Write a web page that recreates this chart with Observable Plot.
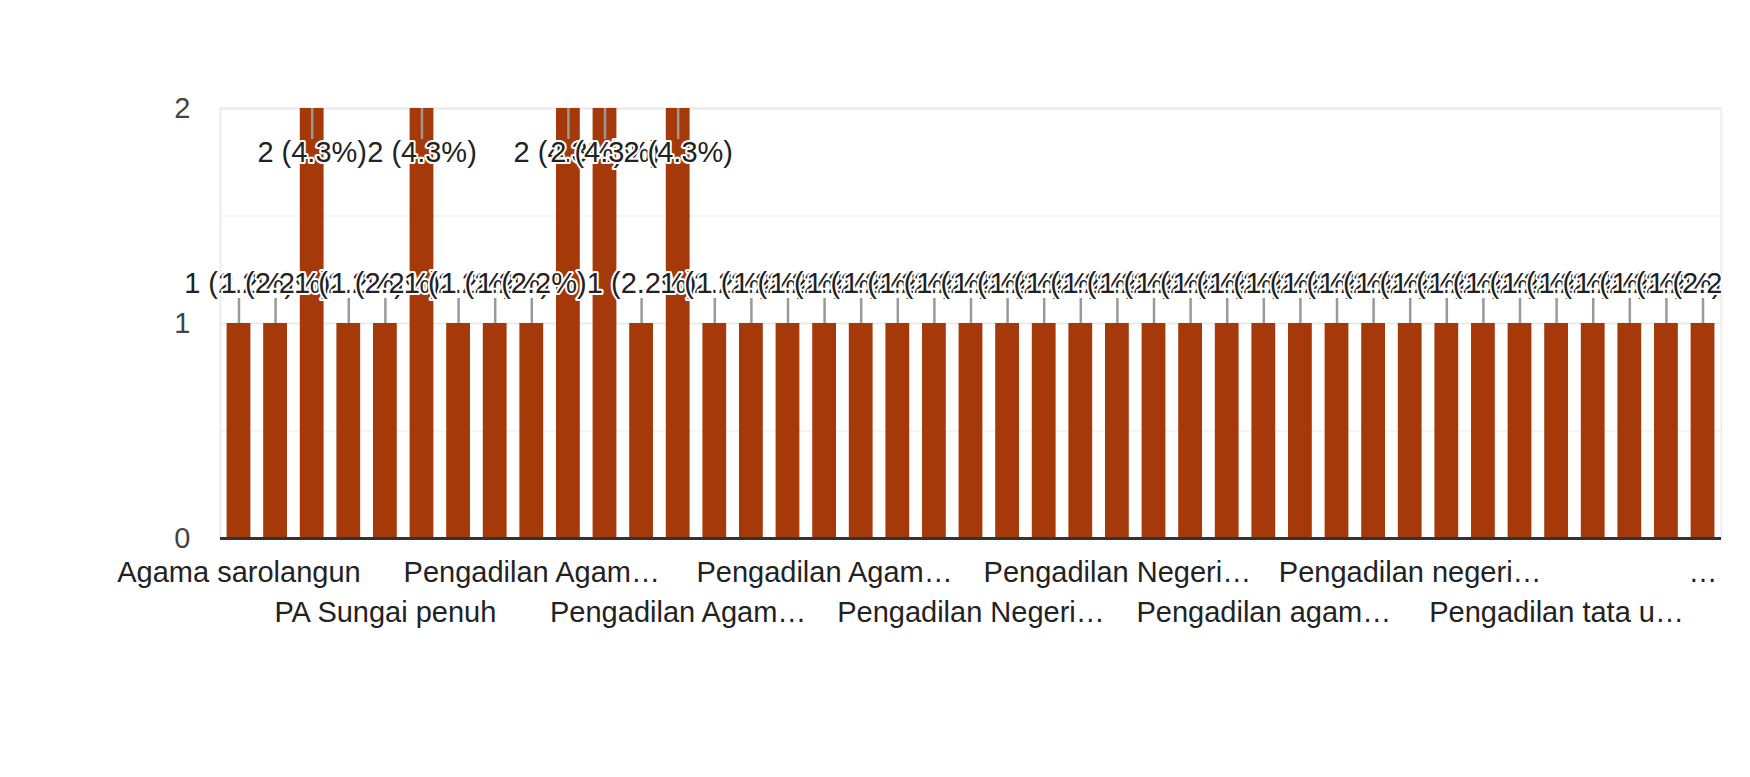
<!DOCTYPE html>
<html>
<head>
<meta charset="utf-8">
<script src="https://cdn.jsdelivr.net/npm/d3@7"></script>
<script src="https://cdn.jsdelivr.net/npm/@observablehq/plot@0.6"></script>
<style>
  html, body { margin: 0; padding: 0; background: #fff; }
  #chart svg { display: block; }
</style>
</head>
<body>
<div id="chart"></div>
<script>
// Categories (sorted as in the source chart)
const categories = [
  "Agama sarolangun",
  "Badilag Mahkamah Agung",
  "Kejaksaan Negeri Jambi",
  "PA Jambi",
  "PA Sungai penuh",
  "PA Tebo",
  "PN Jambi",
  "PTA Jambi",
  "Pengadilan Agama Bangko",
  "Pengadilan Agama Jambi",
  "Pengadilan Agama Kuala Tungkal",
  "Pengadilan Agama Muara Bulian",
  "Pengadilan Agama Muara Bungo",
  "Pengadilan Agama Muara Sabak",
  "Pengadilan Agama Muara Tebo",
  "Pengadilan Agama Sarolangun",
  "Pengadilan Agama Sengeti",
  "Pengadilan Agama Sungai Penuh",
  "Pengadilan Agama Tanjung Karang",
  "Pengadilan Militer Palembang",
  "Pengadilan Negeri Bangko",
  "Pengadilan Negeri Jambi",
  "Pengadilan Negeri Kuala Tungkal",
  "Pengadilan Negeri Muara Bulian",
  "Pengadilan Negeri Muara Bungo",
  "Pengadilan Negeri Sarolangun",
  "Pengadilan Negeri Sengeti",
  "Pengadilan Tinggi Jambi",
  "Pengadilan agama bangko",
  "Pengadilan agama muara bungo",
  "Pengadilan agama sengeti",
  "Pengadilan militer jambi",
  "Pengadilan negeri jambi",
  "Pengadilan negeri muara sabak",
  "Pengadilan negeri sungai penuh",
  "Pengadilan negeri tebo",
  "Pengadilan tata usaha negara jambi",
  "Pengadilan tinggi agama jambi",
  "Pengadilan tinggi jambi",
  "Pn sarolangun",
  "pengadilan agama kuala tungkal"
];

// Response counts
const values = [
  1, 1, 2, 1, 1, 2, 1, 1, 1, 2,
  2, 1, 2, 1, 1, 1, 1, 1, 1, 1,
  1, 1, 1, 1, 1, 1, 1, 1, 1, 1,
  1, 1, 1, 1, 1, 1, 1, 1, 1, 1,
  1
];

// Displayed (truncated) tick labels, one for every 4th category
const tickLabels = [
  "Agama sarolangun",
  "PA Sungai penuh",
  "Pengadilan Agam\u2026",
  "Pengadilan Agam\u2026",
  "Pengadilan Agam\u2026",
  "Pengadilan Negeri\u2026",
  "Pengadilan Negeri\u2026",
  "Pengadilan agam\u2026",
  "Pengadilan negeri\u2026",
  "Pengadilan tata u\u2026",
  "\u2026"
];
const tickEvery = 4;
const yTicks = [0, 1, 2];
const yMinorTicks = [0.5, 1.5];

const total = d3.sum(values);
const ymax = d3.max(values);
const data = categories.map((c, i) => ({
  cat: c,
  v: values[i],
  label: `${values[i]} (${(values[i] / total * 100).toFixed(1)}%)`
}));
const tickCats = categories.filter((c, i) => i % tickEvery === 0);
const labelOf = new Map(tickCats.map((c, i) => [c, tickLabels[i]]));
const row1 = tickCats.filter((c, i) => i % 2 === 0);
const row2 = tickCats.filter((c, i) => i % 2 === 1);

const outside = data.filter(d => d.v < ymax);
const inside = data.filter(d => d.v === ymax);

const FS = 29;

const chart = Plot.plot({
  width: 1722,
  height: 777,
  marginTop: 108,
  marginBottom: 239,
  marginLeft: 220,
  marginRight: 1,
  style: {
    fontFamily: "Arial, 'Liberation Sans', sans-serif",
    fontSize: FS + "px",
    background: "#fff",
    overflow: "hidden"
  },
  x: {domain: categories, paddingInner: 0.35, paddingOuter: 0.18, round: false, axis: null, label: null},
  y: {domain: [0, 2], axis: null, label: null},
  marks: [
    Plot.ruleY(yMinorTicks, {stroke: "#f2f2f2", strokeWidth: 1.5}),
    Plot.ruleY(yTicks.filter(t => t > 0), {stroke: "#ebebeb", strokeWidth: 2}),
    Plot.frame({stroke: "#ebebeb", strokeWidth: 2}),
    Plot.barY(data, {x: "cat", y: "v", fill: "#a5390a"}),
    Plot.ruleY([0], {stroke: "#333", strokeWidth: 3}),
    Plot.axisY({ticks: yTicks, tickSize: 0, tickPadding: 30, fontSize: FS, fill: "#444", label: null, tickFormat: d => String(d)}),
    Plot.axisX({ticks: row1, tickSize: 0, tickPadding: 23, fontSize: FS, fill: "#222", label: null, tickFormat: d => labelOf.get(d)}),
    Plot.axisX({ticks: row2, tickSize: 0, tickPadding: 63, fontSize: FS, fill: "#222", label: null, tickFormat: d => labelOf.get(d)}),
    Plot.ruleX(outside, {x: "cat", y1: "v", y2: "v", insetTop: -25, stroke: "#999", strokeWidth: 2.5}),
    Plot.ruleX(inside, {x: "cat", y1: "v", y2: "v", insetBottom: -31, stroke: "#999", strokeWidth: 2.5}),
    Plot.text(outside, {x: "cat", y: "v", text: "label", lineAnchor: "bottom", dy: -31, fontSize: FS, fill: "#222", stroke: "white", strokeWidth: 4}),
    Plot.text(inside, {x: "cat", y: "v", text: "label", lineAnchor: "bottom", dy: 53, fontSize: FS, fill: "#222", stroke: "white", strokeWidth: 4})
  ]
});
document.getElementById("chart").appendChild(chart);
</script>
</body>
</html>
